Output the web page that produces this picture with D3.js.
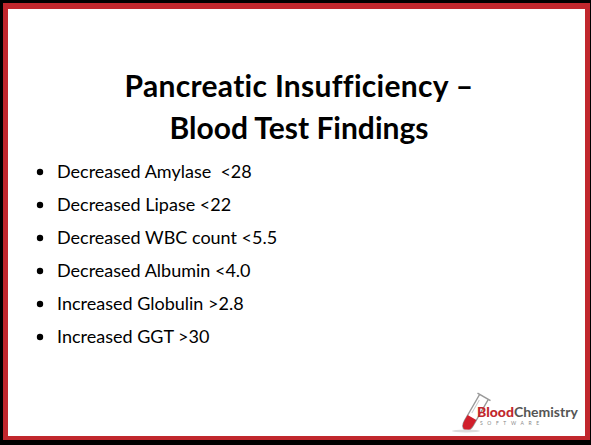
<!DOCTYPE html>
<html><head><meta charset="utf-8">
<script src="https://cdn.jsdelivr.net/npm/d3@7"></script>
<style>html,body{margin:0;padding:0;background:#fff;}svg{display:block;}</style>
</head><body>
<script>
const titleLines = ["Pancreatic Insufficiency \u2013", "Blood Test Findings"];
const findings = ["Decreased Amylase", "Decreased Lipase", "Decreased WBC count", "Decreased Albumin", "Increased Globulin", "Increased GGT"];
const operators = ["<", "<", "<", "<", ">", ">"];
const thresholds = ["28", "22", "5.5", "4.0", "2.8", "30"];
const separators = ["  ", " ", " ", " ", " ", " "];

const W = 591, H = 445;
const svg = d3.select("body").append("svg").attr("width", W).attr("height", H);
svg.append("rect").attr("x",0).attr("y",0).attr("width",W).attr("height",H).attr("fill","#000");
svg.append("rect").attr("x",3).attr("y",3).attr("width",W-4).attr("height",H-8).attr("fill","#c1272d");
svg.append("rect").attr("x",8).attr("y",9).attr("width",W-14).attr("height",H-18).attr("fill","#fff");

const font = "Lato, 'Open Sans', sans-serif";
const ty = d3.scalePoint().domain(titleLines).range([97, 139]);
svg.selectAll("text.title").data(titleLines).join("text").attr("class","title")
  .attr("x", 299).attr("y", d => ty(d)).attr("text-anchor","middle")
  .attr("font-family", font).attr("font-weight", 700).attr("font-size", 30).attr("fill","#000")
  .style("font-variant-ligatures","none").attr("letter-spacing", (d,i) => i === 0 ? 0.3 : 0)
  .text(d => d);

const y = d3.scalePoint().domain(d3.range(findings.length)).range([178, 343]);
const g = svg.append("g");
g.selectAll("circle").data(findings).join("circle")
  .attr("cx", 40).attr("cy", (d,i) => y(i) - 6).attr("r", 3.2).attr("fill","#000");
g.selectAll("text").data(findings).join("text")
  .attr("x", 57).attr("y", (d,i) => y(i))
  .attr("font-family", font).attr("font-size", 18).attr("fill","#000")
  .attr("xml:space","preserve").style("white-space","pre")
  .text((d,i) => d + separators[i] + operators[i] + thresholds[i]);

// logo
const logo = svg.append("g");
const tube = logo.append("g").attr("transform","translate(466,428) rotate(30)");
tube.append("path").attr("d","M-5,-36 L-5,-6 Q-5,2 0,2 Q5,2 5,-6 L5,-36")
  .attr("fill","#fff").attr("stroke","#999").attr("stroke-width",1.3);
tube.append("path").attr("d","M-5,-12 L-5,-6 Q-5,2 0,2 Q5,2 5,-6 L5,-12 Z").attr("fill","#d01f2b");
tube.append("line").attr("x1",-7.5).attr("y1",-36).attr("x2",7.5).attr("y2",-36).attr("stroke","#999").attr("stroke-width",1.6);
tube.append("line").attr("x1",-2.5).attr("y1",-31).attr("x2",-2.5).attr("y2",-16).attr("stroke","#ccc").attr("stroke-width",1);
logo.append("ellipse").attr("cx",466).attr("cy",431).attr("rx",14).attr("ry",1.5).attr("fill","#ddd");
logo.append("text").attr("x",477).attr("y",417).attr("font-family",font).attr("font-size",14)
  .call(t => { t.append("tspan").attr("font-weight",900).attr("fill","#c1272d").text("Blood");
               t.append("tspan").attr("fill","#555").attr("font-weight",700).text("Chemistry"); });
logo.append("text").attr("x",480).attr("y",425).attr("font-family",font).attr("font-size",5)
  .attr("letter-spacing",4.6).attr("fill","#888").text("SOFTWARE");
</script>
</body></html>
